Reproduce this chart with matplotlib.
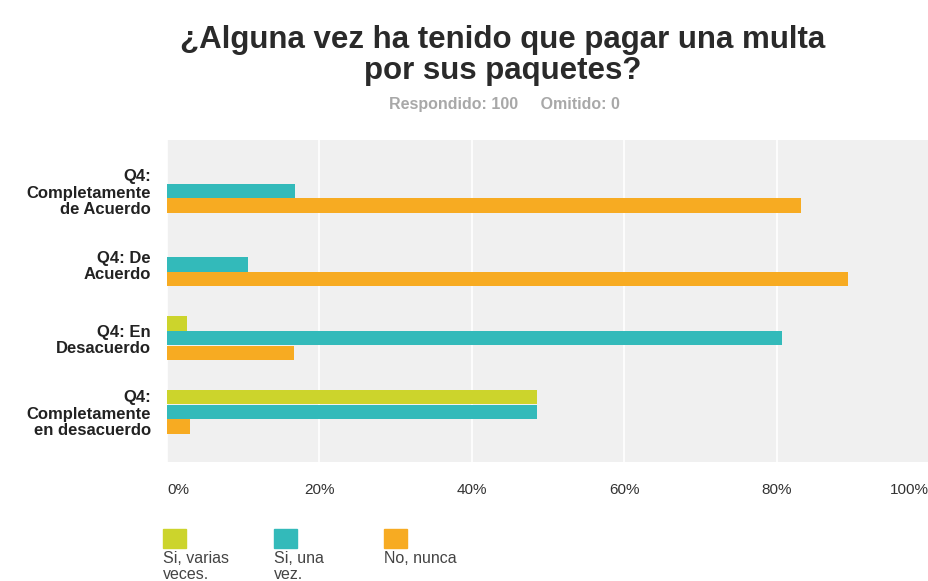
import matplotlib
matplotlib.use("Agg")
import matplotlib.pyplot as plt
from matplotlib.patches import Rectangle
import numpy as np

plt.rcParams['font.family'] = ['Liberation Sans', 'DejaVu Sans']

categories = ["Q4:\nCompletamente\nde Acuerdo", "Q4: De\nAcuerdo", "Q4: En\nDesacuerdo",
              "Q4:\nCompletamente\nen desacuerdo"]
series_names = ["Si, varias\nveces.", "Si, una\nvez.", "No, nunca"]
si_varias = [0, 0, 2.6, 48.5]
si_una = [16.8, 10.6, 80.7, 48.5]
no_nunca = [83.2, 89.4, 16.7, 3.0]
xticks = [0, 20, 40, 60, 80, 100]
xticklabels = ["0%", "20%", "40%", "60%", "80%", "100%"]
colors = ["#ccd42c", "#33baba", "#f7ab22"]

fig = plt.figure(figsize=(9.29, 5.81), dpi=100)
ax = fig.add_axes([167/929, 1-462/581, 762/929, 322/581])
ax.set_facecolor("#f0f0f0")

y = np.arange(len(categories))
h = 0.2
for vals, off, c in zip([si_varias, si_una, no_nunca], [-h, 0, h], colors):
    ax.barh(y + off, vals, height=h*0.97, color=c, zorder=3)

ax.set_xlim(0, 100)
ax.set_ylim(3.68, -0.69)
ax.set_xticks(xticks)
ax.set_xticklabels(xticklabels, fontsize=11, color="#333333")
lbls = ax.get_xticklabels()
lbls[0].set_ha('left')
lbls[-1].set_ha('right')
ax.tick_params(axis='x', length=0, pad=15)
ax.set_yticks(y)
ax.set_yticklabels(categories, fontsize=12, fontweight='bold', color="#222222",
                   linespacing=1.12)
ax.tick_params(axis='y', length=0, pad=11.5)
ax.grid(axis='x', color='white', linewidth=1.2, zorder=1)
for s in ax.spines.values():
    s.set_visible(False)

fig.text(503/929, 1-25/581, "¿Alguna vez ha tenido que pagar una multa\npor sus paquetes?",
         ha='center', va='top', fontsize=22.5, fontweight='bold', color="#2a2a2a",
         linespacing=1.05)
fig.text(504/929, 1-105/581, "Respondido: 100     Omitido: 0", ha='center', va='center',
         fontsize=11.5, fontweight='bold', color="#a8a8a8")

# legend
lx = [163, 274, 384]
for x0, c, name in zip(lx, colors, series_names):
    fig.patches.append(Rectangle((x0/929, 1-548/581), 23/929, 19/581,
                                 transform=fig.transFigure, color=c))
    fig.text(x0/929, 1-551/581, name, ha='left', va='top', fontsize=11.5,
             color="#444444", linespacing=1.05)

fig.savefig("out.png", dpi=100)
